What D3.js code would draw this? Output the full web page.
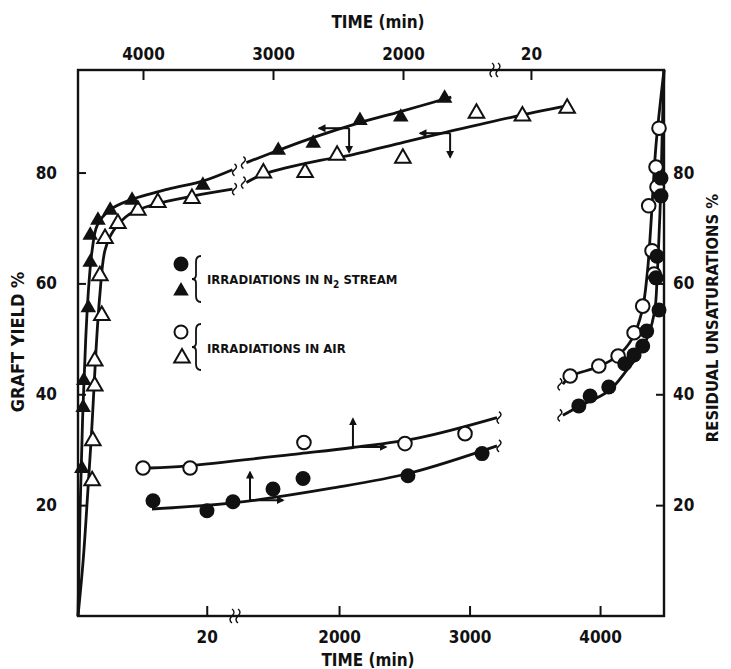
<!DOCTYPE html>
<html>
<head>
<meta charset="utf-8">
<script src="https://cdn.jsdelivr.net/npm/d3@7"></script>
<style>
  html, body { margin: 0; background: #fff; }
  svg text {
    font-family: "DejaVu Sans Condensed", "Liberation Sans", sans-serif;
    font-weight: 700;
    fill: #111;
  }
</style>
</head>
<body>
<div id="chart"></div>
<script>
// ---- tick labels ----
const Y_TICKS = [20, 40, 60, 80];
const BOTTOM_TICKS = [20, 2000, 3000, 4000];
const TOP_TICKS = [20, 2000, 3000, 4000];

// ---- graft yield (%) vs time (min), read on the bottom axis ----
const N2_YIELD = [
  [0.6, 26.6], [0.8, 37.6], [0.9, 42.5], [1.6, 55.6], [1.9, 63.8], [1.9, 68.7],
  [3.1, 71.4], [5.0, 73.2], [8.4, 75.0], [19.4, 77.7],
  [1534, 84.0], [1802, 85.3], [2160, 89.4], [2473, 90.0], [2809, 93.4]
];
const AIR_YIELD = [
  [2.2, 24.4], [2.3, 31.6], [2.6, 41.5], [2.6, 46.0], [3.7, 54.2], [3.4, 61.4],
  [4.2, 68.1], [6.2, 70.8], [9.3, 73.2], [12.4, 74.6], [17.7, 75.3],
  [1420, 79.9], [1740, 80.0], [1985, 83.1], [2489, 82.6], [3053, 90.7], [3405, 90.2], [3748, 91.6]
];
// fitted curves, split at the axis break
const N2_YIELD_FIT = [
  [[0, 0], [0.3, 18], [0.7, 35], [1.2, 50], [1.7, 60], [2.2, 66], [3, 70.5], [5, 73.3],
   [8, 75], [14, 77], [19.5, 78.5], [24, 80.5]],
  [[1290, 81.8], [1534, 84], [1800, 86.3], [2160, 89], [2470, 91], [2860, 93.6]]
];
const AIR_YIELD_FIT = [
  [[0, 0], [0.8, 10], [1.5, 22], [2.2, 35], [2.8, 48], [3.4, 58], [4.2, 66], [5.5, 69.5],
   [8, 72.5], [12, 74.3], [18, 75.8], [24, 77]],
  [[1290, 78.2], [1420, 79.7], [1855, 82.2], [2061, 83], [2500, 85.5], [2824, 87.3],
   [3328, 90], [3763, 92.1]]
];

// ---- residual unsaturations (%) vs time (min), read on the top axis ----
const N2_UNSAT = [
  [3923, 20.8], [3508, 19.0], [3308, 20.6], [3000, 22.9], [2769, 24.8], [1962, 25.3], [1392, 29.3],
  [12.8, 37.9], [11.1, 39.7], [8.3, 41.3], [5.9, 45.5], [4.5, 47.1], [3.2, 48.7], [2.6, 51.4],
  [0.75, 55.2], [1.2, 61.0], [1.05, 64.9], [0.45, 75.8], [0.45, 79.0]
];
const AIR_UNSAT = [
  [4000, 26.7], [3638, 26.7], [2762, 31.3], [1985, 31.1], [1523, 32.9],
  [14.1, 43.3], [9.8, 45.1], [6.9, 46.9], [4.5, 51.1], [3.2, 55.9], [1.5, 61.7], [1.8, 65.9],
  [2.3, 74.0], [1.05, 77.4], [1.2, 81.0], [0.75, 88.0]
];
const N2_UNSAT_FIT = [
  [[3931, 19.3], [3308, 20.4], [2538, 23.1], [1946, 25.8], [1277, 30.7]],
  [[15.2, 36.2], [12.8, 37.8], [8.3, 40.6], [5.5, 44.5], [3.6, 47.5], [2.4, 50.5], [1.4, 55],
   [1.0, 62], [0.7, 70], [0.45, 78], [0.25, 88], [0, 98.5]]
];
const AIR_UNSAT_FIT = [
  [[3946, 26.7], [3662, 27.1], [2792, 29.3], [2385, 30.4], [1869, 32.2], [1277, 35.8]],
  [[15.2, 41.8], [14.1, 43.2], [9.8, 45], [6.9, 47], [4.8, 50], [3.3, 55], [2.5, 62], [2.0, 70],
   [1.6, 78], [1.2, 85], [0.7, 91], [0, 98.5]]
];

// axis-pointer arrows: [time, value] anchor, which time axis, arrow directions
const POINTERS = [
  { axis: "bottom", at: [2077, 88.0], dirs: ["left", "down"] },
  { axis: "bottom", at: [2851, 87.1], dirs: ["left", "down"] },
  { axis: "top",    at: [2385, 30.5], dirs: ["up", "right"] },
  { axis: "top",    at: [3177, 20.9], dirs: ["up", "right"] }
];

function drawChart() {
  const width = 731, height = 669;
  const box = { left: 78, right: 664, top: 70, bottom: 616 };

  const svg = d3.select("#chart").append("svg")
    .attr("width", width)
    .attr("height", height)
    .attr("viewBox", [0, 0, width, height]);

  // broken time axes: short-time segment, then long-time segment
  const xBottom = d3.scaleLinear()
    .domain([0, 24.7, 1218, 4490])
    .range([box.left, 237, 237, box.right]);
  const xTop = d3.scaleLinear()
    .domain([0, 25.1, 1277, 4500])
    .range([box.right, 497, 497, box.left]);
  const y = d3.scaleLinear()
    .domain([0, 98.5])
    .range([box.bottom, box.top]);

  // frame
  svg.append("rect")
    .attr("x", box.left).attr("y", box.top)
    .attr("width", box.right - box.left)
    .attr("height", box.bottom - box.top)
    .attr("fill", "none")
    .attr("stroke", "#111")
    .attr("stroke-width", 2.4);

  const fmt = d3.format("d");
  const styleAxis = g => {
    g.select(".domain").remove();
    g.selectAll(".tick line").attr("stroke", "#111").attr("stroke-width", 2);
    g.selectAll(".tick text").attr("font-size", 17).attr("fill", "#111");
  };

  svg.append("g")
    .attr("transform", `translate(0,${box.bottom})`)
    .call(d3.axisBottom(xBottom).tickValues(BOTTOM_TICKS).tickFormat(fmt)
      .tickSizeInner(-10).tickSizeOuter(0).tickPadding(15))
    .call(styleAxis);
  svg.append("g")
    .attr("transform", `translate(0,${box.top})`)
    .call(d3.axisTop(xTop).tickValues(TOP_TICKS).tickFormat(fmt)
      .tickSizeInner(-10).tickSizeOuter(0).tickPadding(10))
    .call(styleAxis);
  svg.append("g")
    .attr("transform", `translate(${box.left},0)`)
    .call(d3.axisLeft(y).tickValues(Y_TICKS).tickSizeInner(-8).tickSizeOuter(0).tickPadding(21))
    .call(styleAxis);
  svg.append("g")
    .attr("transform", `translate(${box.right},0)`)
    .call(d3.axisRight(y).tickValues(Y_TICKS).tickSizeInner(-8).tickSizeOuter(0).tickPadding(9))
    .call(styleAxis);

  // axis break marks
  const squiggle = (x0, y0) => `M${x0 - 5},${y0 - 7} q4,3 0,7 q-4,4 0,7 M${x0 + 1},${y0 - 7} q4,3 0,7 q-4,4 0,7`;
  svg.append("path").attr("d", squiggle(xBottom(24.7), box.bottom))
    .attr("fill", "none").attr("stroke", "#111").attr("stroke-width", 1.4);
  svg.append("path").attr("d", squiggle(xTop(25.1), box.top))
    .attr("fill", "none").attr("stroke", "#111").attr("stroke-width", 1.4);

  // axis titles
  svg.append("text").attr("x", 378).attr("y", 28).attr("text-anchor", "middle")
    .attr("font-size", 17).text("TIME (min)");
  svg.append("text").attr("x", 368).attr("y", 666).attr("text-anchor", "middle")
    .attr("font-size", 17).text("TIME (min)");
  svg.append("text").attr("transform", "translate(24,342) rotate(-90)")
    .attr("text-anchor", "middle").attr("font-size", 18).text("GRAFT YIELD %");
  svg.append("text").attr("transform", "translate(718,318) rotate(-90)")
    .attr("text-anchor", "middle").attr("font-size", 16.5).text("RESIDUAL UNSATURATIONS %");

  // fitted curves
  const g = svg.append("g");
  const curve = d3.curveCatmullRom.alpha(0.5);
  const lineB = d3.line().x(d => xBottom(d[0])).y(d => y(d[1])).curve(curve);
  const lineT = d3.line().x(d => xTop(d[0])).y(d => y(d[1])).curve(curve);

  [[N2_YIELD_FIT, lineB], [AIR_YIELD_FIT, lineB], [N2_UNSAT_FIT, lineT], [AIR_UNSAT_FIT, lineT]]
    .forEach(([segs, line]) => {
      segs.forEach(seg => {
        g.append("path")
          .attr("d", line(seg))
          .attr("fill", "none")
          .attr("stroke", "#111")
          .attr("stroke-width", 2.8);
      });
    });

  // small squiggles where curves are cut
  const cutMark = (x0, y0) => `M${x0},${y0 - 6} q4,3 0,6 q-4,3 0,6`;
  [[N2_YIELD_FIT, xBottom], [AIR_YIELD_FIT, xBottom], [N2_UNSAT_FIT, xTop], [AIR_UNSAT_FIT, xTop]]
    .forEach(([segs, sx]) => {
      const a = segs[0][segs[0].length - 1], b = segs[1][0];
      g.append("path").attr("d", cutMark(sx(a[0]) + 2, y(a[1])) + cutMark(sx(b[0]) - 3, y(b[1])))
        .attr("fill", "none").attr("stroke", "#111").attr("stroke-width", 1.5);
    });

  // markers
  const tri = d3.symbol().type(d3.symbolTriangle).size(105);
  g.selectAll(null).data(AIR_YIELD).enter().append("path")
    .attr("d", tri)
    .attr("transform", d => `translate(${xBottom(d[0])},${y(d[1])})`)
    .attr("fill", "#fff").attr("stroke", "#111").attr("stroke-width", 2);
  g.selectAll(null).data(N2_YIELD).enter().append("path")
    .attr("d", tri)
    .attr("transform", d => `translate(${xBottom(d[0])},${y(d[1])})`)
    .attr("fill", "#111");
  g.selectAll(null).data(AIR_UNSAT).enter().append("circle")
    .attr("r", 6.8)
    .attr("cx", d => xTop(d[0])).attr("cy", d => y(d[1]))
    .attr("fill", "#fff").attr("stroke", "#111").attr("stroke-width", 2);
  g.selectAll(null).data(N2_UNSAT).enter().append("circle")
    .attr("r", 7.5)
    .attr("cx", d => xTop(d[0])).attr("cy", d => y(d[1]))
    .attr("fill", "#111");

  // pointer arrows
  svg.append("defs").append("marker")
    .attr("id", "head").attr("viewBox", "0 0 10 10")
    .attr("refX", 8).attr("refY", 5)
    .attr("markerWidth", 4).attr("markerHeight", 4)
    .attr("orient", "auto")
    .append("path").attr("d", "M0,0 L10,5 L0,10 z").attr("fill", "#111");

  const step = { left: [-30, 0], right: [33, 0], up: [0, -28], down: [0, 24] };
  POINTERS.forEach(p => {
    const sx = p.axis === "bottom" ? xBottom : xTop;
    const px = sx(p.at[0]), py = y(p.at[1]);
    p.dirs.forEach(dir => {
      g.append("line")
        .attr("x1", px).attr("y1", py)
        .attr("x2", px + step[dir][0]).attr("y2", py + step[dir][1])
        .attr("stroke", "#111").attr("stroke-width", 2)
        .attr("marker-end", "url(#head)");
    });
  });

  // legend
  const lg = svg.append("g").attr("transform", "translate(181,264)");
  lg.append("circle").attr("r", 7.5).attr("fill", "#111");
  lg.append("path").attr("d", tri).attr("transform", "translate(0,27)").attr("fill", "#111");
  lg.append("circle").attr("r", 6.5).attr("cy", 68).attr("fill", "#fff").attr("stroke", "#111").attr("stroke-width", 2);
  lg.append("path").attr("d", tri).attr("transform", "translate(1,94)")
    .attr("fill", "#fff").attr("stroke", "#111").attr("stroke-width", 2);

  const brace = (x0, y0, h) =>
    `M${x0 + 5},${y0} q-5,0 -5,6 l0,${h / 2 - 10} q0,4 -4,4 q4,0 4,4 l0,${h / 2 - 10} q0,6 5,6`;
  lg.append("path").attr("d", brace(15, -8, 46)).attr("fill", "none").attr("stroke", "#111").attr("stroke-width", 1.8);
  lg.append("path").attr("d", brace(15, 60, 46)).attr("fill", "none").attr("stroke", "#111").attr("stroke-width", 1.8);

  const t1 = lg.append("text").attr("x", 26).attr("y", 20).attr("font-size", 13);
  t1.append("tspan").text("IRRADIATIONS  IN  N");
  t1.append("tspan").attr("font-size", 10).attr("dy", 4).text("2");
  t1.append("tspan").attr("dy", -4).text("  STREAM");
  lg.append("text").attr("x", 26).attr("y", 89).attr("font-size", 13).text("IRRADIATIONS   IN   AIR");
}

drawChart();
</script>
</body>
</html>
